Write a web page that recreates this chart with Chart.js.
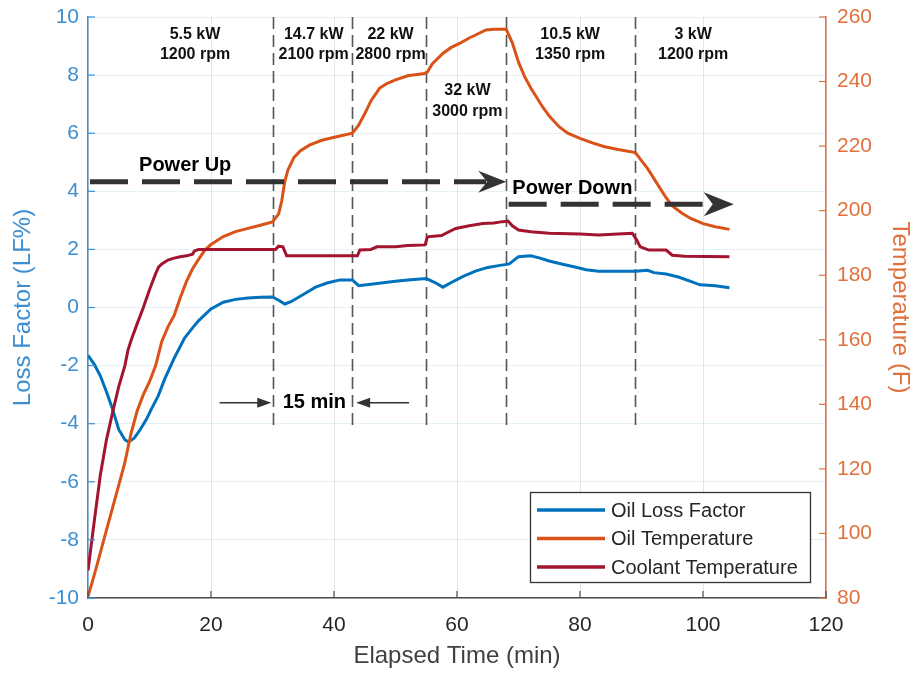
<!DOCTYPE html>
<html>
<head>
<meta charset="utf-8">
<title>Oil Loss Factor / Temperature</title>
<script src="https://cdn.jsdelivr.net/npm/chart.js@4"></script>
<style>
  html, body { margin: 0; padding: 0; background: #fff; }
  canvas { display: block; }
</style>
</head>
<body>
<canvas id="myChart" width="917" height="673"></canvas>
<script>
// Data (minutes, LF%, deg F)
const lfTime = [0, 1, 2, 3, 4, 5, 6, 6.6, 7.5, 8.5, 9.5, 10.3, 11.4, 12.5, 14, 15.7, 17, 18, 20, 22, 24, 26, 28, 30,
  31, 32, 33, 35, 37, 39, 41, 43, 44, 46, 48, 50, 52, 55, 56.5, 57.7, 59, 61, 63, 65, 67, 68.5, 70, 72, 73.5, 75,
  77, 79, 81, 83, 86, 89, 91, 92, 94, 96, 98, 99.5, 102, 104.3];
const lossFactor = [-1.65, -1.95, -2.35, -2.9, -3.5, -4.2, -4.55, -4.63, -4.5, -4.2, -3.85, -3.5, -3.05, -2.45, -1.75, -1.05, -0.7, -0.45, -0.05, 0.18, 0.28, 0.33, 0.35, 0.36,
  0.25, 0.12, 0.2, 0.45, 0.7, 0.85, 0.95, 0.95, 0.75, 0.8, 0.85, 0.9, 0.95, 1.0, 0.85, 0.7, 0.85, 1.07, 1.25, 1.38, 1.45, 1.5, 1.75, 1.78, 1.7, 1.6,
  1.5, 1.4, 1.3, 1.25, 1.25, 1.25, 1.28, 1.2, 1.15, 1.05, 0.9, 0.78, 0.75, 0.68];

const oilTime = [0, 1, 2, 3, 4, 5, 6, 7, 8, 9, 10, 11, 12, 13, 14, 15, 16, 17, 18, 19, 20, 22, 24, 26, 28, 30,
  31, 31.5, 32, 32.5, 33.5, 34.5, 36, 38, 40.4, 43, 44, 45, 46, 47.4, 48.5, 50, 52, 54.7, 55.2, 56, 57.7, 59, 60.4, 62, 63.1, 64.7, 66, 68,
  69, 70, 71, 72, 73.9, 75, 76.6, 78, 80, 82, 84, 86, 89, 90, 91, 92, 93, 94, 95, 96.6, 98, 100, 102, 104.3];
const oilTemp = [80.5, 87, 94, 101, 108, 115, 122, 131, 138, 143, 147, 152, 159.5, 164, 167.5, 173, 178, 182, 185, 187.8, 189.5, 192, 193.5, 194.5, 195.5, 196.5,
  199, 203, 209, 212.6, 216.5, 218.5, 220.3, 221.8, 222.9, 224, 226.5, 230, 234, 237.9, 239.3, 240.5, 241.8, 242.5, 243, 245.5, 248.7, 250.5, 251.8, 253.5, 254.5, 256, 256.2, 256.2,
  252, 246, 241.5, 238, 232.2, 229.3, 226, 224, 222.4, 221, 219.8, 219, 218, 215.5, 213, 210, 207, 204, 201.5, 199.2, 197.6, 196, 195, 194.2];

const coolTime = [0, 1, 2, 3, 4, 5, 6, 6.5, 7, 8, 9, 10, 11, 11.5, 12, 13, 14, 15, 16, 17, 17.3, 18, 30.5, 31, 31.7, 32.3, 43.8, 44.2, 46, 47, 50, 52, 54.8,
  55.2, 57.5, 58.2, 59.8, 62, 64.2, 66, 67.4, 68.3, 69, 70, 72, 75, 80, 83, 88.5, 89.2, 89.8, 91.2, 94, 95, 97, 104.3];
const coolTemp = [88.5, 103.5, 118, 129, 137.5, 145.5, 152, 156.8, 159.8, 165, 170, 175.5, 180.5, 182.6, 183.5, 184.7, 185.3, 185.7, 186, 186.5, 187.5, 188, 188, 189, 188.8, 186, 186, 187.8, 188, 188.8, 188.8, 189.2, 189.4,
  191.9, 192.3, 193, 194.5, 195.3, 196, 196.2, 196.6, 196.8, 195.3, 194, 193.5, 193, 192.8, 192.5, 193, 191, 188.8, 187.8, 187.8, 186.2, 185.9, 185.7];

const seriesNames = ['Oil Loss Factor', 'Oil Temperature', 'Coolant Temperature'];
const xTicks = [0, 20, 40, 60, 80, 100, 120];
const lfTicks = [-10, -8, -6, -4, -2, 0, 2, 4, 6, 8, 10];
const tempTicks = [80, 100, 120, 140, 160, 180, 200, 220, 240, 260];

// Test stages
const stageBounds = [30, 43, 55, 68, 89];
const stageLabels = [['5.5 kW', '1200 rpm'], ['14.7 kW', '2100 rpm'], ['22 kW', '2800 rpm'],
  ['32 kW', '3000 rpm'], ['10.5 kW', '1350 rpm'], ['3 kW', '1200 rpm']];

const FONT = "'Liberation Sans', Arial, sans-serif";
const BLUE = '#0072BD', ORANGE = '#D95319', CRIMSON = '#A2142F';
const BLUE_AX = '#3d8fd1', ORANGE_AX = '#e2703c';

Chart.defaults.font.family = FONT;

function pts(xs, ys) {
  return xs.map((x, i) => ({ x: x, y: ys[i] }));
}

function chevron(ctx, tipX, y, dir, len, half, notch) {
  ctx.beginPath();
  ctx.moveTo(tipX, y);
  ctx.lineTo(tipX - dir * len, y - half);
  ctx.lineTo(tipX - dir * (len - notch), y);
  ctx.lineTo(tipX - dir * len, y + half);
  ctx.closePath();
  ctx.fill();
}

function triangle(ctx, tipX, y, dir, len, half) {
  ctx.beginPath();
  ctx.moveTo(tipX, y);
  ctx.lineTo(tipX - dir * len, y - half);
  ctx.lineTo(tipX - dir * len, y + half);
  ctx.closePath();
  ctx.fill();
}

// dashed stage lines drawn under the curves
const stagePlugin = {
  id: 'stages',
  beforeDatasetsDraw(chart) {
    const { ctx, chartArea, scales } = chart;
    const yEnd = scales.y.getPixelForValue(-4.1);
    ctx.save();
    ctx.strokeStyle = '#555';
    ctx.lineWidth = 1.6;
    ctx.setLineDash([12, 6]);
    stageBounds.forEach(b => {
      const px = Math.round(scales.x.getPixelForValue(b)) + 0.5;
      ctx.beginPath();
      ctx.moveTo(px, chartArea.top);
      ctx.lineTo(px, yEnd);
      ctx.stroke();
    });
    ctx.restore();
  }
};

// text, arrows, inward ticks, legend
const overlayPlugin = {
  id: 'overlay',
  afterDraw(chart) {
    const { ctx, chartArea, scales } = chart;
    const xs = scales.x, yl = scales.y, yr = scales.y1;
    ctx.save();

    // inward tick marks
    ctx.lineWidth = 1.2;
    ctx.strokeStyle = '#4d4d4d';
    xTicks.forEach(v => {
      const px = xs.getPixelForValue(v);
      ctx.beginPath(); ctx.moveTo(px, chartArea.bottom); ctx.lineTo(px, chartArea.bottom - 7); ctx.stroke();
    });
    ctx.strokeStyle = BLUE_AX;
    lfTicks.forEach(v => {
      const py = yl.getPixelForValue(v);
      ctx.beginPath(); ctx.moveTo(chartArea.left, py); ctx.lineTo(chartArea.left + 7, py); ctx.stroke();
    });
    ctx.strokeStyle = ORANGE_AX;
    tempTicks.forEach(v => {
      const py = yr.getPixelForValue(v);
      ctx.beginPath(); ctx.moveTo(chartArea.right, py); ctx.lineTo(chartArea.right - 7, py); ctx.stroke();
    });

    // stage labels
    const labelX = [17.4, 36.7, 49.2, 61.7, 78.4, 98.4];
    ctx.fillStyle = '#111';
    ctx.font = 'bold 16px ' + FONT;
    ctx.textAlign = 'center';
    ctx.textBaseline = 'middle';
    stageLabels.forEach((lines, i) => {
      const y0 = i === 3 ? 7.45 : 9.4;
      const y1 = i === 3 ? 6.75 : 8.7;
      const px = xs.getPixelForValue(labelX[i]);
      ctx.fillText(lines[0], px, yl.getPixelForValue(y0));
      ctx.fillText(lines[1], px, yl.getPixelForValue(y1));
    });

    // Power Up / Power Down arrows
    ctx.strokeStyle = '#333';
    ctx.fillStyle = '#333';
    ctx.lineWidth = 5;
    ctx.setLineDash([38, 14]);
    const upY = yl.getPixelForValue(4.33);
    const upTip = xs.getPixelForValue(68);
    ctx.beginPath(); ctx.moveTo(xs.getPixelForValue(0) + 2, upY); ctx.lineTo(upTip - 20, upY); ctx.stroke();
    const dnY = yl.getPixelForValue(3.55);
    const dnTip = xs.getPixelForValue(105);
    ctx.beginPath(); ctx.moveTo(xs.getPixelForValue(68.4), dnY); ctx.lineTo(dnTip - 30, dnY); ctx.stroke();
    ctx.setLineDash([]);
    chevron(ctx, upTip, upY, 1, 28, 11, 9);
    chevron(ctx, dnTip, dnY, 1, 30, 12, 9);

    ctx.fillStyle = '#000';
    ctx.font = 'bold 20px ' + FONT;
    ctx.fillText('Power Up', xs.getPixelForValue(15.8), yl.getPixelForValue(4.89));
    ctx.textAlign = 'left';
    ctx.fillText('Power Down', xs.getPixelForValue(69), yl.getPixelForValue(4.09));

    // 15 min marker
    const mY = yl.getPixelForValue(-3.28);
    ctx.strokeStyle = '#333';
    ctx.fillStyle = '#333';
    ctx.lineWidth = 1.5;
    const aL0 = xs.getPixelForValue(21.4), aL1 = xs.getPixelForValue(29.8);
    const aR0 = xs.getPixelForValue(52.2), aR1 = xs.getPixelForValue(43.6);
    ctx.beginPath(); ctx.moveTo(aL0, mY); ctx.lineTo(aL1 - 12, mY); ctx.stroke();
    ctx.beginPath(); ctx.moveTo(aR0, mY); ctx.lineTo(aR1 + 12, mY); ctx.stroke();
    triangle(ctx, aL1, mY, 1, 14, 5);
    triangle(ctx, aR1, mY, -1, 14, 5);
    ctx.fillStyle = '#000';
    ctx.textAlign = 'center';
    ctx.fillText('15 min', xs.getPixelForValue(36.8), mY);

    // legend box
    const bw = 280, bh = 90;
    const bx = chartArea.right - 16 - bw, by = chartArea.bottom - 16 - bh;
    ctx.fillStyle = '#fff';
    ctx.fillRect(bx, by, bw, bh);
    ctx.strokeStyle = '#333';
    ctx.lineWidth = 1.3;
    ctx.strokeRect(Math.round(bx) + 0.5, Math.round(by) + 0.5, bw, bh);
    ctx.font = '20px ' + FONT;
    ctx.textAlign = 'left';
    ctx.textBaseline = 'middle';
    chart.data.datasets.forEach((ds, i) => {
      const ly = by + 18 + i * 28.5;
      ctx.strokeStyle = ds.borderColor;
      ctx.lineWidth = 3.5;
      ctx.beginPath(); ctx.moveTo(bx + 7, ly); ctx.lineTo(bx + 75, ly); ctx.stroke();
      ctx.fillStyle = '#262626';
      ctx.fillText(ds.label, bx + 81, ly + 1);
    });

    ctx.restore();
  }
};

const tickFont = { family: FONT, size: 21 };
const titleFont = { family: FONT, size: 24 };

// vertical axes: fixed width, no extra top/bottom padding from the end labels
function fixY(width) {
  return function (s) {
    s.width = width;
    s.paddingTop = 0;
    s.paddingBottom = 0;
  };
}

let ctx = document.getElementById('myChart').getContext('2d');
let myChart = new Chart(ctx, {
  type: 'line',
  data: {
    datasets: [
      { label: seriesNames[0], data: pts(lfTime, lossFactor), yAxisID: 'y', borderColor: BLUE, order: 3 },
      { label: seriesNames[1], data: pts(oilTime, oilTemp), yAxisID: 'y1', borderColor: ORANGE, order: 2 },
      { label: seriesNames[2], data: pts(coolTime, coolTemp), yAxisID: 'y1', borderColor: CRIMSON, order: 1 }
    ]
  },
  options: {
    responsive: false,
    animation: false,
    events: [],
    layout: { padding: { top: 17, left: 0, right: 0, bottom: 0 } },
    elements: {
      line: { borderWidth: 3, tension: 0, fill: false },
      point: { radius: 0 }
    },
    plugins: { legend: { display: false }, tooltip: { enabled: false } },
    scales: {
      x: {
        type: 'linear', min: 0, max: 120,
        afterBuildTicks(s) { s.ticks = xTicks.map(v => ({ value: v })); },
        ticks: { color: '#262626', font: tickFont, padding: 15, maxRotation: 0 },
        grid: { color: 'rgba(38,38,38,0.12)', drawTicks: false },
        border: { color: '#4d4d4d', width: 1.5 },
        title: { display: true, text: 'Elapsed Time (min)', color: '#404040', font: titleFont, padding: { top: 0, bottom: 2 } },
        afterFit(s) { s.height = 75; }
      },
      y: {
        position: 'left', min: -10, max: 10,
        afterBuildTicks(s) { s.ticks = lfTicks.map(v => ({ value: v })); },
        ticks: { color: BLUE_AX, font: tickFont, padding: 9 },
        grid: { color: 'rgba(0,114,189,0.10)', drawTicks: false },
        border: { color: BLUE_AX, width: 1.5 },
        title: { display: true, text: 'Loss Factor (LF%)', color: BLUE_AX, font: titleFont, padding: { top: 9, bottom: 0 } },
        afterFit: fixY(88)
      },
      y1: {
        position: 'right', min: 80, max: 260,
        afterBuildTicks(s) { s.ticks = tempTicks.map(v => ({ value: v })); },
        ticks: { color: ORANGE_AX, font: tickFont, padding: 11 },
        grid: { drawOnChartArea: false, drawTicks: false },
        border: { color: ORANGE_AX, width: 1.5 },
        title: { display: true, text: 'Temperature (F)', color: ORANGE_AX, font: titleFont, padding: { top: 3, bottom: 0 } },
        afterFit: fixY(91)
      }
    }
  },
  plugins: [stagePlugin, overlayPlugin]
});
</script>
</body>
</html>
